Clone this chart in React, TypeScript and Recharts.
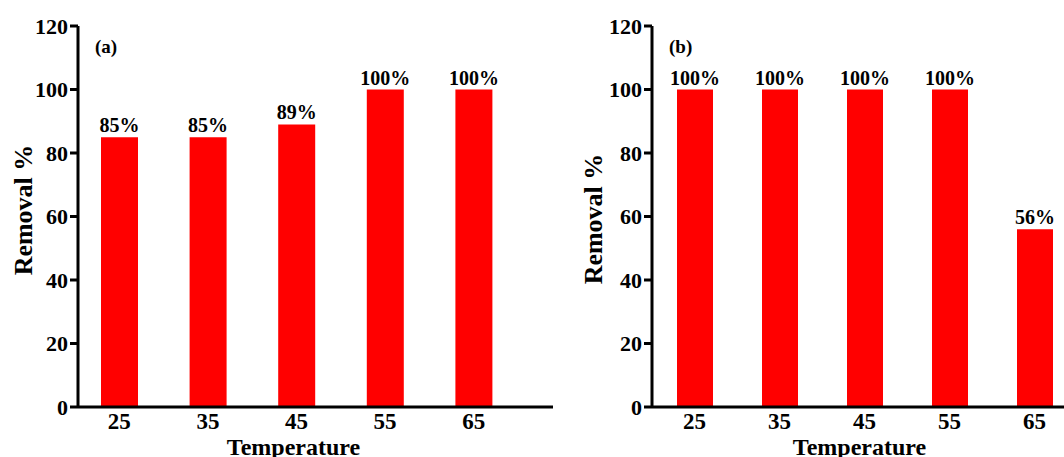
import React from 'react';
import { BarChart, Bar, XAxis, YAxis, LabelList } from 'recharts';

const temperatures = ['25', '35', '45', '55', '65'];
const removalA = [85, 85, 89, 100, 100];
const removalB = [100, 100, 100, 100, 56];
const yTicks = [0, 20, 40, 60, 80, 100, 120];

const font = '"Liberation Serif", "Times New Roman", serif';
const axisStyle = { stroke: '#000', strokeWidth: 3 };

interface PanelProps {
  values: number[];
  tag: string;
  left: number;
  barSize: number;
  padLeft: number;
  padRight: number;
  labelDx: number;
  yLabelX: number;
  yLabelTop: number;
}

const Panel: React.FC<PanelProps> = ({ values, tag, left, barSize, padLeft, padRight, labelDx, yLabelX, yLabelTop }) => {
  const data = temperatures.map((t, i) => ({ name: t, removal: values[i] }));
  return (
    <div style={{ position: 'absolute', left, top: 0, width: 560, height: 457 }}>
      <BarChart width={560} height={457} data={data} margin={{ top: 26, right: 7, bottom: 0, left: 18 }}>
        <XAxis
          dataKey="name"
          height={50}
          axisLine={axisStyle}
          tickLine={false}
          tickSize={4}
          padding={{ left: padLeft, right: padRight }}
          tick={{ fontSize: 23, fontWeight: 'bold', fill: '#000', fontFamily: font }}
          label={{
            value: 'Temperature',
            position: 'insideBottom',
            offset: 2,
            dx: labelDx,
            style: { fontSize: 24, fontWeight: 'bold', fill: '#000', fontFamily: font },
          }}
        />
        <XAxis xAxisId="top" orientation="top" height={0} tick={false} tickLine={false} axisLine={axisStyle} />
        <YAxis
          width={60}
          domain={[0, 120]}
          ticks={yTicks}
          interval={0}
          axisLine={axisStyle}
          tickLine={{ stroke: '#000', strokeWidth: 3 }}
          tickSize={8}
          tick={{ fontSize: 22, fontWeight: 'bold', fill: '#000', fontFamily: font }}
        />
        <YAxis yAxisId="right" orientation="right" width={0} tick={false} tickLine={false} axisLine={axisStyle} />
        <Bar dataKey="removal" fill="#ff0000" barSize={barSize} isAnimationActive={false}>
          <LabelList
            dataKey="removal"
            position="top"
            offset={5}
            formatter={(v: any) => `${v}%`}
            style={{ fontSize: 20, fontWeight: 'bold', fill: '#000', fontFamily: font }}
          />
        </Bar>
      </BarChart>
      <div
        style={{
          position: 'absolute',
          left: 95,
          top: 36,
          fontFamily: font,
          fontWeight: 'bold',
          fontSize: 19,
          color: '#000',
        }}
      >
        {tag}
      </div>
      <div
        style={{
          position: 'absolute',
          left: yLabelX,
          top: yLabelTop,
          transform: 'translate(-50%, -50%) rotate(-90deg)',
          whiteSpace: 'nowrap',
          fontFamily: font,
          fontWeight: 'bold',
          fontSize: 26,
          color: '#000',
        }}
      >
        Removal %
      </div>
    </div>
  );
};

export default function App() {
  return (
    <div
      style={{
        position: 'absolute',
        left: 0,
        top: 0,
        width: 1064,
        height: 457,
        overflow: 'hidden',
        background: '#fff',
      }}
    >
      <Panel values={removalA} tag="(a)" left={0} barSize={37} padLeft={-3} padRight={35} labelDx={-22} yLabelX={24} yLabelTop={210} />
      <Panel values={removalB} tag="(b)" left={574} barSize={36} padLeft={0} padRight={50} labelDx={-30} yLabelX={20} yLabelTop={219} />
    </div>
  );
}
